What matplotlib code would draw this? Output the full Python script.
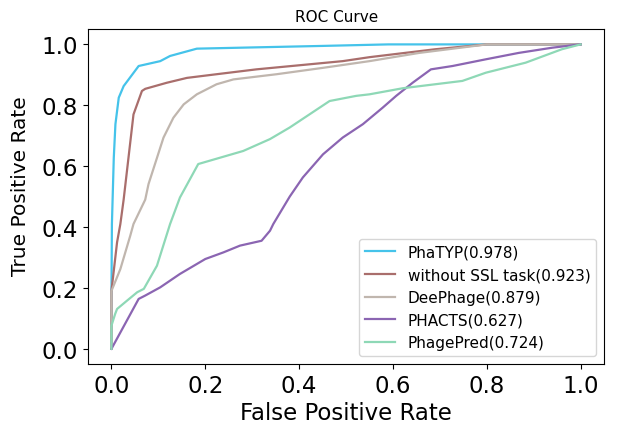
import numpy as np
import matplotlib
matplotlib.use("Agg")
import matplotlib.pyplot as plt

# ROC curves (fpr, tpr)
phatyp_fpr = [0.0, 0.0, 0.001, 0.005, 0.0085, 0.0156, 0.026, 0.058, 0.104, 0.125, 0.182, 0.30, 0.45, 0.59, 1.0]
phatyp_tpr = [0.0, 0.17, 0.41, 0.628, 0.738, 0.825, 0.863, 0.929, 0.945, 0.962, 0.986, 0.99, 0.995, 1.0, 1.0]

nossl_fpr = [0.0, 0.0, 0.012, 0.019, 0.026, 0.047, 0.065, 0.072, 0.118, 0.161, 0.224, 0.309, 0.493, 0.55, 0.69, 0.80, 1.0]
nossl_tpr = [0.0, 0.19, 0.35, 0.41, 0.49, 0.77, 0.847, 0.854, 0.874, 0.89, 0.902, 0.918, 0.945, 0.958, 0.984, 1.0, 1.0]

deephage_fpr = [0.0, 0.0, 0.019, 0.040, 0.047, 0.072, 0.079, 0.111, 0.132, 0.154, 0.182, 0.224, 0.26, 0.352, 0.451, 0.55, 0.656, 0.80, 1.0]
deephage_tpr = [0.0, 0.19, 0.262, 0.371, 0.41, 0.49, 0.541, 0.694, 0.759, 0.803, 0.836, 0.869, 0.885, 0.902, 0.923, 0.945, 0.972, 1.0, 1.0]

phacts_fpr = [0.0, 0.058, 0.072, 0.104, 0.146, 0.200, 0.239, 0.274, 0.320, 0.338, 0.345, 0.380, 0.408, 0.451, 0.493, 0.536, 0.578, 0.607, 0.642, 0.681, 0.727, 0.798, 0.868, 0.939, 0.982, 1.0]
phacts_tpr = [0.0, 0.164, 0.175, 0.202, 0.246, 0.295, 0.317, 0.339, 0.355, 0.388, 0.41, 0.50, 0.563, 0.639, 0.694, 0.738, 0.792, 0.831, 0.874, 0.918, 0.929, 0.951, 0.972, 0.989, 0.997, 1.0]

phagepred_fpr = [0.0, 0.0, 0.008, 0.012, 0.033, 0.055, 0.069, 0.097, 0.125, 0.146, 0.185, 0.281, 0.338, 0.380, 0.465, 0.522, 0.55, 0.621, 0.748, 0.798, 0.883, 0.960, 1.0]
phagepred_tpr = [0.0, 0.076, 0.115, 0.131, 0.158, 0.186, 0.197, 0.273, 0.41, 0.497, 0.607, 0.650, 0.689, 0.727, 0.814, 0.831, 0.836, 0.856, 0.880, 0.907, 0.940, 0.984, 1.0]

labels = ["PhaTYP(0.978)", "without SSL task(0.923)", "DeePhage(0.879)", "PHACTS(0.627)", "PhagePred(0.724)"]
colors = ["#45c3ea", "#a96e6c", "#c0b6ae", "#8b65b2", "#8ed8b6"]

curves = [(phatyp_fpr, phatyp_tpr), (nossl_fpr, nossl_tpr), (deephage_fpr, deephage_tpr),
          (phacts_fpr, phacts_tpr), (phagepred_fpr, phagepred_tpr)]

fig = plt.figure(figsize=(6.17, 4.31), dpi=100)
ax = fig.add_axes([0.1426, 0.153, 0.8364, 0.777])

for (fpr, tpr), lab, col in zip(curves, labels, colors):
    ax.plot(fpr, tpr, color=col, lw=1.6, label=lab)

ax.set_title("ROC Curve", fontsize=11, x=0.482)
ax.set_xlabel("False Positive Rate", fontsize=16.5, labelpad=3)
ax.set_ylabel("True Positive Rate", fontsize=14.5)
ax.yaxis.set_label_coords(-0.112, 0.534)
ax.tick_params(labelsize=16.5)
ax.set_xticks([0.0, 0.2, 0.4, 0.6, 0.8, 1.0])
ax.set_yticks([0.0, 0.2, 0.4, 0.6, 0.8, 1.0])
ax.legend(loc="lower right", fontsize=11)

fig.savefig("out.png", dpi=100)
